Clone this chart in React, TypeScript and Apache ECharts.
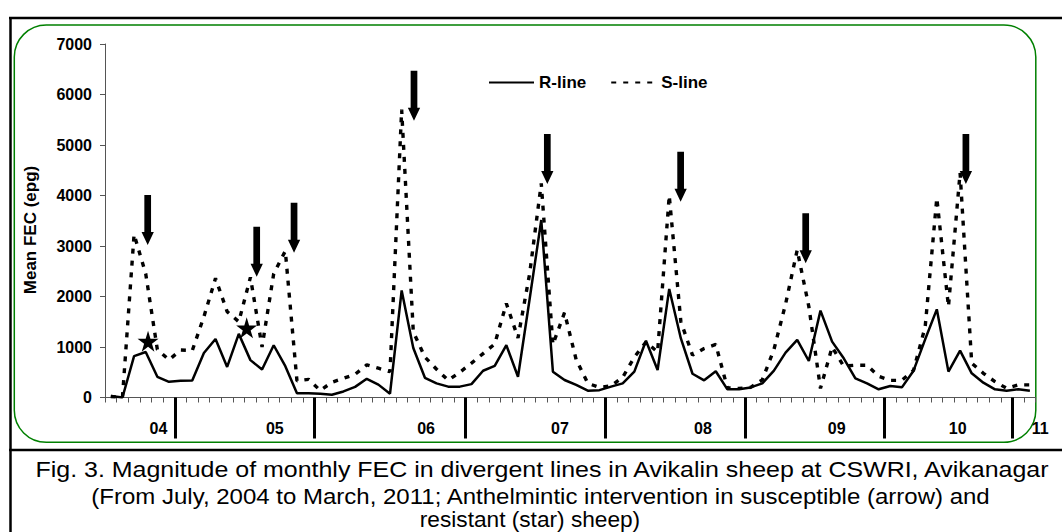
import React, { useEffect, useRef } from 'react';
import * as echarts from 'echarts';

// Monthly categories: July 2004 onward (80 months)
const monthNames = ['Jan', 'Feb', 'Mar', 'Apr', 'May', 'Jun', 'Jul', 'Aug', 'Sep', 'Oct', 'Nov', 'Dec'];
const startYear = 2004;
const startMonth = 6; // July
const monthCount = 80;
const categories: string[] = [];
for (let k = 0; k < monthCount; k++) {
  const m = (startMonth + k) % 12;
  const y = startYear + Math.floor((startMonth + k) / 12);
  categories.push(`${monthNames[m]}-${String(y).slice(2)}`);
}

// Mean FEC (epg), R-line (resistant)
const rLine = [
  30, 0, 820, 900, 410, 310, 330, 335, 880, 1160,
  605, 1260, 740, 555, 1035, 620, 85, 85, 75, 55,
  120, 210, 370, 255, 75, 2120, 980, 390, 280, 215,
  215, 265, 530, 625, 1035, 410, 1950, 3515, 512, 347,
  250, 135, 145, 215, 280, 512, 1125, 545, 2150, 1170,
  470, 340, 520, 162, 162, 200, 281, 531, 888, 1140,
  723, 1720, 1106, 776, 380, 281, 162, 228, 201, 531,
  1152, 1746, 512, 927, 479, 294, 162, 135, 162, 135,
];

// Mean FEC (epg), S-line (susceptible)
const sLine = [
  20, 0, 3230, 2450, 950, 745, 940, 930, 1600, 2360,
  1700, 1500, 2380, 1000, 2450, 2900, 330, 360, 140, 300,
  380, 460, 645, 580, 510, 5700, 1300, 800, 560, 340,
  500, 680, 870, 1060, 1860, 1180, 2450, 4240, 1050, 1680,
  750, 280, 200, 230, 400, 800, 1100, 900, 4000, 1500,
  840, 970, 1050, 190, 180, 200, 350, 950, 1850, 2920,
  1800, 180, 1000, 620, 640, 640, 420, 340, 340, 540,
  1400, 3950, 1800, 4450, 680, 480, 314, 182, 250, 250,
];

// Year separators and labels (positions in months from July 2004)
const yearBoundaries = [6, 18, 31, 43, 55, 67, 78];
const yearLabels = ['04', '05', '06', '07', '08', '09', '10', '11'];
const yearLabelPos = [4.6, 14.6, 27.6, 39.1, 51.4, 62.9, 73.3, 80];

// Anthelmintic intervention: susceptible (arrows) – arrow tip positions
const arrowX = [3.67, 13.04, 16.25, 26.56, 38.02, 49.48, 60.23, 74.0];
const arrowY = [3020, 2392, 2867, 5481, 4228, 3877, 2657, 4228];

// Anthelmintic intervention: resistant (stars)
const starX = [3.7, 12.18];
const starY = [1115, 1380];

const FONT = '"Liberation Sans", Arial, Helvetica, sans-serif';

const captionLines = [
  'Fig. 3. Magnitude of monthly FEC in divergent lines in Avikalin sheep at CSWRI, Avikanagar',
  '(From July, 2004 to March, 2011; Anthelmintic intervention in susceptible (arrow) and',
  'resistant (star) sheep)',
];
const captionX = [542, 540.5, 530];
const captionY = [470, 496, 520];
const captionScale = [1.135, 1.092, 1.03];

const arrowPath = 'path://M2.8,0 L9.5,0 L9.5,37 L12.3,37 L6.15,50 L0,37 L2.8,37 Z';
const starPath =
  'path://M50,0 L61,35 L98,35 L68,57 L79,91 L50,70 L21,91 L32,57 L2,35 L39,35 Z';

export default function App() {
  const ref = useRef<HTMLDivElement>(null);

  useEffect(() => {
    if (!ref.current) return;
    const chart = echarts.init(ref.current, null, { renderer: 'svg' });

    const option: any = {
      animation: false,
      backgroundColor: '#ffffff',
      textStyle: { fontFamily: FONT },
      grid: { left: 105, right: 26.3, top: 44, bottom: 134.5, containLabel: false },
      legend: {
        data: ['R-line', 'S-line'],
        left: 483,
        top: 69,
        itemWidth: 45,
        itemHeight: 14,
        itemGap: 24,
        itemStyle: { opacity: 0 },
        textStyle: { fontSize: 17, fontWeight: 'bold', color: '#000', fontFamily: FONT },
      },
      xAxis: [
        {
          type: 'category',
          data: categories,
          position: 'bottom',
          boundaryGap: true,
          axisLine: { show: true, lineStyle: { color: '#555', width: 1 } },
          axisTick: { show: true, interval: 0, length: 5, lineStyle: { color: '#555', width: 1 } },
          axisLabel: { show: false },
          splitLine: { show: false },
        },
        {
          type: 'value',
          min: 0,
          max: 80,
          position: 'bottom',
          axisLine: { show: false },
          splitLine: { show: false },
          axisTick: {
            show: true,
            customValues: yearBoundaries,
            length: 41,
            lineStyle: { color: '#000', width: 3 },
          },
          axisLabel: {
            show: true,
            customValues: yearLabelPos,
            margin: 23,
            fontSize: 16,
            fontWeight: 'bold',
            color: '#000',
            fontFamily: FONT,
            formatter: (v: number) => {
              const i = yearLabelPos.findIndex((p) => Math.abs(p - v) < 1e-6);
              if (i < 0) return '';
              return i === yearLabels.length - 1 ? `{end|${yearLabels[i]}}` : yearLabels[i];
            },
            rich: {
              end: { fontSize: 16, fontWeight: 'bold', color: '#000', fontFamily: FONT, padding: [0, 0, 0, 9] },
            },
          },
        },
      ],
      yAxis: {
        type: 'value',
        min: 0,
        max: 7000,
        interval: 1000,
        axisLine: { show: true, lineStyle: { color: '#555', width: 1 } },
        axisTick: { show: true, length: 5, lineStyle: { color: '#555' } },
        splitLine: { show: false },
        axisLabel: {
          margin: 13,
          fontSize: 16,
          fontWeight: 'bold',
          color: '#000',
          fontFamily: FONT,
          formatter: (v: number) => String(v),
        },
      },
      series: [
        {
          name: 'R-line',
          type: 'line',
          xAxisIndex: 0,
          yAxisIndex: 0,
          data: rLine,
          symbol: 'none',
          lineStyle: { color: '#000', width: 2.5 },
          itemStyle: { color: '#000' },
          z: 3,
        },
        {
          name: 'S-line',
          type: 'line',
          xAxisIndex: 0,
          yAxisIndex: 0,
          data: sLine,
          symbol: 'none',
          lineStyle: { color: '#000', width: 3.4, type: [5, 7] },
          itemStyle: { color: '#000' },
          z: 3,
        },
        {
          name: 'arrows',
          type: 'scatter',
          xAxisIndex: 1,
          yAxisIndex: 0,
          data: arrowX.map((x, i) => [x, arrowY[i]]),
          symbol: arrowPath,
          symbolSize: [12.3, 50],
          symbolOffset: [0, '-50%'],
          itemStyle: { color: '#000', opacity: 1 },
          silent: true,
          z: 4,
        },
        {
          name: 'stars',
          type: 'scatter',
          xAxisIndex: 1,
          yAxisIndex: 0,
          data: starX.map((x, i) => [x, starY[i]]),
          symbol: starPath,
          symbolSize: 21,
          itemStyle: { color: '#000', opacity: 1 },
          silent: true,
          z: 4,
        },
      ],
      graphic: [
        { type: 'line', shape: { x1: 9, y1: 18, x2: 1062, y2: 18 }, style: { stroke: '#000', lineWidth: 2.5 }, silent: true },
        { type: 'line', shape: { x1: 10.5, y1: 17, x2: 10.5, y2: 532 }, style: { stroke: '#000', lineWidth: 2.5 }, silent: true },
        { type: 'line', shape: { x1: 9, y1: 450, x2: 1062, y2: 450 }, style: { stroke: '#000', lineWidth: 2.5 }, silent: true },
        {
          type: 'rect',
          shape: { x: 14.3, y: 25, width: 1021.5, height: 417.3, r: 32 },
          style: { fill: 'none', stroke: '#008000', lineWidth: 1.5 },
          silent: true,
          z: -1,
        },
        {
          type: 'text',
          x: 30,
          y: 230,
          rotation: Math.PI / 2,
          style: {
            text: 'Mean FEC (epg)',
            fontSize: 17,
            fontWeight: 'bold',
            fontFamily: FONT,
            fill: '#000',
            align: 'center',
            verticalAlign: 'middle',
            textAlign: 'center',
            textVerticalAlign: 'middle',
          },
          silent: true,
        },
        ...captionLines.map((t, i) => ({
          type: 'text',
          x: captionX[i],
          y: captionY[i],
          scaleX: captionScale[i],
          style: {
            text: t,
            fontSize: 22,
            fontFamily: FONT,
            fill: '#000',
            align: 'center',
            verticalAlign: 'middle',
            textAlign: 'center',
            textVerticalAlign: 'middle',
          },
          silent: true,
        })),
      ],
    };

    chart.setOption(option);
    return () => chart.dispose();
  }, []);

  return (
    <div style={{ position: 'absolute', left: 0, top: 0, width: 1062, height: 532, background: '#fff' }}>
      <div ref={ref} style={{ width: 1062, height: 532 }} />
    </div>
  );
}
